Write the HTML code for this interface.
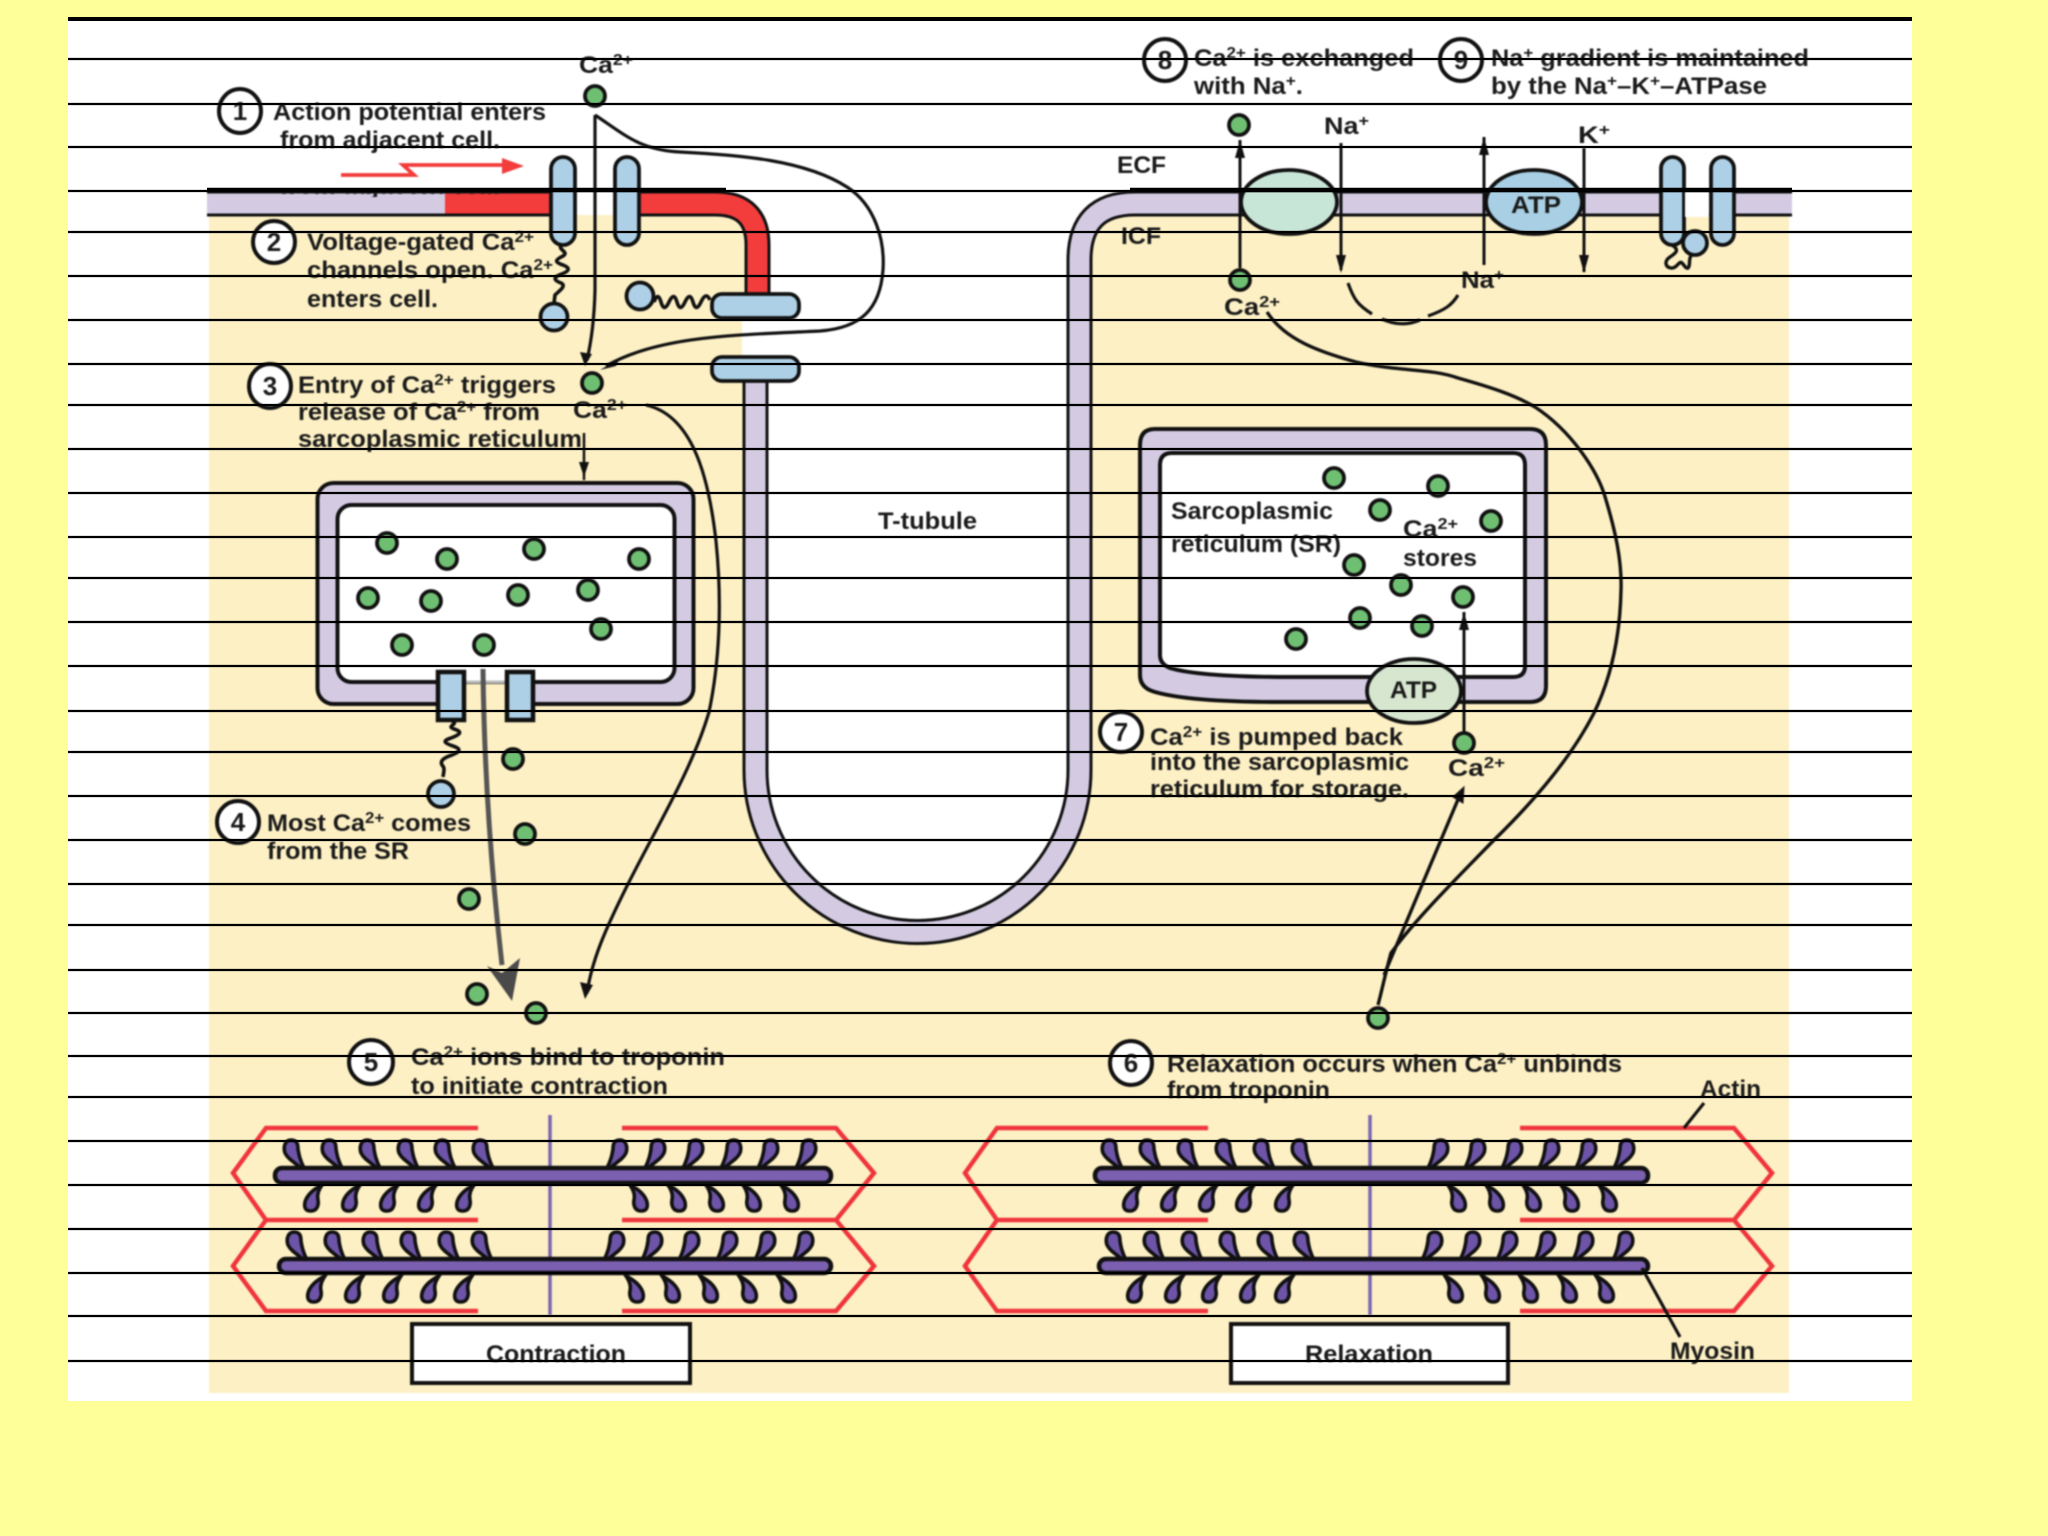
<!DOCTYPE html>
<html><head><meta charset="utf-8"><title>Excitation-contraction coupling</title>
<style>
html,body{margin:0;padding:0;background:#ffff99;width:2048px;height:1536px;overflow:hidden}
svg{display:block}
text{font-family:"Liberation Sans",sans-serif;font-weight:700;font-size:24px;fill:#1a1a1a}
.s{font-size:16px}
</style></head><body>
<svg xmlns="http://www.w3.org/2000/svg" width="2048" height="1536" viewBox="0 0 2048 1536">
<defs>
<circle id="g" r="10" fill="#6fbf73" stroke="#111" stroke-width="3.800"/>
<path id="h1" d="M0 0C-6 0-8 7-6 13C-3 19 3 22 10 28L13 28C9 20 8 15 7 9C7 4 6 0 0 0Z" fill="#6d54a8" stroke="#111" stroke-width="3.600"/>
<g id="h2" transform="scale(-1,1)"><use href="#h1"/></g>
<path id="h3" d="M0 0C6 0 8-6 7-11C6-16 7-20 11-26C3-22-4-16-6-9C-7-4-6 0 0 0Z" fill="#6d54a8" stroke="#111" stroke-width="3.600"/>
<g id="h4" transform="scale(-1,1)"><use href="#h3"/></g>
<clipPath id="rem"><rect x="270" y="192" width="240" height="5"/></clipPath>
</defs>
<rect x="68" y="18" width="1844" height="1383" fill="#fff"/>
<g style="filter:blur(.8px)">
<rect x="209" y="216" width="1580" height="1177" fill="#fdf0c4"/>
<path d="M715 203Q755.500 203 755.500 245V770A162 162 0 0 0 1079.500 770V260Q1079.500 203 1135 203Z" fill="#fff"/>
<rect x="742" y="318" width="60" height="40" fill="#fff"/>
<rect x="580" y="191" width="40" height="25" fill="#fff"/>

<!-- T tubule and membranes -->
<path d="M755.500 382V770A162 162 0 0 0 1079.500 770V260Q1079.500 203.500 1135 203.500H1792" fill="none" stroke="#111" stroke-width="26"/>
<path d="M755.500 382V770A162 162 0 0 0 1079.500 770V260Q1079.500 203.500 1135 203.500H1792" fill="none" stroke="#d4cbe3" stroke-width="20"/>
<path d="M207 203.500H445" stroke="#111" stroke-width="26" fill="none"/>
<path d="M207 203.500H445" stroke="#d4cbe3" stroke-width="20" fill="none"/>
<path d="M445 203.500H555M630 203.500H715Q757.500 203.500 757.500 245V295" stroke="#111" stroke-width="26" fill="none"/>
<path d="M445 203.500H555M630 203.500H715Q757.500 203.500 757.500 245V295" stroke="#f33c3c" stroke-width="20" fill="none"/>
<rect x="577" y="189" width="36" height="28" fill="#fff"/>
<path d="M577 216H613" stroke="#fdf0c4" stroke-width="2"/>
<text x="280" y="194" textLength="220" lengthAdjust="spacingAndGlyphs" clip-path="url(#rem)">from adjacent cell.</text>

<!-- channels -->
<rect x="551" y="157" width="24" height="88" rx="12" fill="#add0e6" stroke="#111" stroke-width="3.800"/>
<rect x="615" y="157" width="24" height="88" rx="12" fill="#add0e6" stroke="#111" stroke-width="3.800"/>
<rect x="712" y="294" width="87" height="24" rx="10" fill="#add0e6" stroke="#111" stroke-width="3.800"/>
<rect x="712" y="357" width="87" height="24" rx="10" fill="#add0e6" stroke="#111" stroke-width="3.800"/>
<path d="M562 245c-6 4 8 7 1 11c-8 4-9 6 0 9c8 3 6 6-1 9c-9 3-9 6-1 9c6 3-2 8-6 12l-1 8" fill="none" stroke="#111" stroke-width="3.600"/>
<circle cx="554" cy="317" r="13.500" fill="#add0e6" stroke="#111" stroke-width="3.800"/>
<circle cx="640" cy="296" r="13.500" fill="#add0e6" stroke="#111" stroke-width="3.800"/>
<path d="M654 302q4-11 7 0t8 0t8 0t8 0t8 0t8 0t9-2" fill="none" stroke="#111" stroke-width="3.600"/>

<!-- red action potential arrow -->
<path d="M341 175H414L403 165H506" fill="none" stroke="#f33c3c" stroke-width="3.800"/>
<path d="M502 158L524 166L502 174Z" fill="#f33c3c"/>

<!-- curves upper-left -->
<path d="M595 115V290Q594 330 587 360" fill="none" stroke="#111" stroke-width="3.200"/>
<path d="M580 352L592 354L585 366Z" fill="#111"/>
<path d="M595 115C625 135 640 150 680 152C740 155 805 160 847 187C875 205 885 240 883 270C880 310 860 328 820 331C740 335 660 335 606 366" fill="none" stroke="#111" stroke-width="3.200"/>
<path d="M600 370L620 358L616 366Z" fill="#111"/>
<path d="M646 405C690 415 708 470 716 541C722 600 720 660 709 712C692 770 655 830 627 886C605 930 592 960 587 993" fill="none" stroke="#111" stroke-width="3.200"/>
<path d="M580 982L593 985L585 999Z" fill="#111"/>
<path d="M584 433V480" stroke="#111" stroke-width="2.500"/>
<path d="M579 462H589L584 477Z" fill="#111"/>

<!-- left SR -->
<rect x="317.500" y="483" width="376" height="221" rx="16" fill="#d4cbe3" stroke="#111" stroke-width="4"/>
<rect x="337.500" y="505" width="337" height="177" rx="14" fill="#fff" stroke="#111" stroke-width="4"/>
<rect x="462" y="684" width="46" height="40" fill="#fdf0c4"/>
<rect x="462" y="668" width="46" height="14" fill="#fff"/>
<path d="M462 682H508" stroke="#bbb" stroke-width="3"/>
<rect x="438" y="672" width="26" height="48" fill="#add0e6" stroke="#111" stroke-width="4.500"/>
<rect x="507" y="672" width="26" height="48" fill="#add0e6" stroke="#111" stroke-width="4.500"/>
<path d="M452 721c8 3-7 5 2 8c10 3 5 6-3 9c-9 3-7 5 2 8c9 3 7 6-1 9c-9 3-12 6-10 10c3 3 2 5 1 12" fill="none" stroke="#111" stroke-width="3.600"/>
<circle cx="441" cy="794" r="13" fill="#add0e6" stroke="#111" stroke-width="3.800"/>

<!-- grey arrow -->
<path d="M483 669C484 760 490 860 502 965" stroke="#555" stroke-width="5" fill="none"/>
<path d="M512 1001L487 966L502 973L520 958Z" fill="#4a4a4a"/>

<!-- right SR -->
<path d="M1155 429H1530Q1546 429 1546 445V686Q1546 702 1530 702H1280Q1190 702 1155 692Q1140 688 1140 675V445Q1140 429 1155 429Z" fill="#d4cbe3" stroke="#111" stroke-width="4"/>
<path d="M1172 453H1513Q1525 453 1525 465V666Q1525 677 1513 677H1290Q1200 677 1170 668Q1160 664 1160 655V465Q1160 453 1172 453Z" fill="#fff" stroke="#111" stroke-width="4"/>
<ellipse cx="1414" cy="691" rx="47" ry="32" fill="#d6e6cf" stroke="#111" stroke-width="3.800"/>
<path d="M1464 612V735" stroke="#111" stroke-width="3"/>
<path d="M1459 630H1469L1464 612Z" fill="#111"/>

<!-- exchanger, pump, Na/K channel -->
<ellipse cx="1289" cy="202" rx="48" ry="32" fill="#c8e6d8" stroke="#111" stroke-width="3.800"/>
<ellipse cx="1534" cy="202" rx="48" ry="32" fill="#a8cfe3" stroke="#111" stroke-width="3.800"/>
<rect x="1661" y="157" width="23" height="88" rx="11.500" fill="#add0e6" stroke="#111" stroke-width="3.800"/>
<rect x="1685" y="189" width="24" height="28" fill="#fff"/>
<rect x="1711" y="157" width="23" height="88" rx="11.500" fill="#add0e6" stroke="#111" stroke-width="3.800"/>
<circle cx="1695" cy="243" r="12" fill="#add0e6" stroke="#111" stroke-width="3.800"/>
<path d="M1672 245c8 5 4 8-2 12c-6 4-5 10 1 11c6 1 8-8 11-5c3 3 4 6 6 5c3-3 0-8 3-12" fill="none" stroke="#111" stroke-width="3.400"/>

<path d="M1240 140V268M1341 143V270M1484 137V265M1584 148V272" stroke="#111" stroke-width="3" fill="none"/>
<path d="M1235 158H1245L1240 140ZM1336 255H1346L1341 273ZM1479 155H1489L1484 137ZM1579 255H1589L1584 273Z" fill="#111"/>
<path d="M1348 283C1354 300 1358 305 1372 314M1382 319Q1402 328 1420 320M1428 316C1445 310 1452 305 1458 295" fill="none" stroke="#111" stroke-width="3.200"/>

<!-- long relaxation curve -->
<path d="M1267 312C1285 340 1320 352 1356 362C1400 372 1430 368 1458 378C1490 387 1515 395 1535 407C1570 430 1598 470 1606 500C1615 530 1622 560 1621 590C1620 640 1610 680 1594 713C1570 760 1530 805 1494 840C1450 885 1415 920 1391 953C1385 975 1382 990 1378 1005" fill="none" stroke="#111" stroke-width="3.400"/>
<path d="M1384 975L1462 790" fill="none" stroke="#111" stroke-width="3.400"/>
<path d="M1453 797L1464 787L1463 803Z" fill="#111" stroke="#111" stroke-width="1"/>

<!-- calcium dots -->
<use href="#g" x="595" y="96"/><use href="#g" x="592" y="383"/><use href="#g" x="1239" y="125"/><use href="#g" x="1240" y="280"/>
<use href="#g" x="387" y="543"/><use href="#g" x="447" y="559"/><use href="#g" x="534" y="549"/><use href="#g" x="639" y="559"/><use href="#g" x="368" y="598"/><use href="#g" x="431" y="601"/><use href="#g" x="518" y="595"/><use href="#g" x="588" y="590"/><use href="#g" x="601" y="629"/><use href="#g" x="402" y="645"/><use href="#g" x="484" y="645"/>
<use href="#g" x="513" y="759"/><use href="#g" x="525" y="834"/><use href="#g" x="469" y="899"/><use href="#g" x="477" y="994"/><use href="#g" x="536" y="1013"/>
<use href="#g" x="1334" y="478"/><use href="#g" x="1438" y="486"/><use href="#g" x="1380" y="510"/><use href="#g" x="1491" y="521"/><use href="#g" x="1354" y="565"/><use href="#g" x="1401" y="585"/><use href="#g" x="1463" y="597"/><use href="#g" x="1360" y="618"/><use href="#g" x="1422" y="626"/><use href="#g" x="1296" y="639"/><use href="#g" x="1464" y="743"/><use href="#g" x="1378" y="1018"/>

<!-- number circles -->
<g fill="#fff" stroke="#111" stroke-width="4">
<ellipse cx="240" cy="111" rx="21" ry="22"/><ellipse cx="274" cy="242" rx="21" ry="21"/><ellipse cx="270" cy="386" rx="21" ry="22"/><ellipse cx="238" cy="822" rx="21" ry="21"/><ellipse cx="371" cy="1062" rx="22" ry="22"/><ellipse cx="1131" cy="1063" rx="21" ry="22"/><ellipse cx="1121" cy="732" rx="21" ry="20"/><ellipse cx="1165" cy="60" rx="21" ry="21"/><ellipse cx="1461" cy="60" rx="21" ry="21"/>
</g>
<g text-anchor="middle">
<text x="240" y="120" style="font-size:26px">1</text><text x="274" y="251" style="font-size:26px">2</text><text x="270" y="395" style="font-size:26px">3</text><text x="238" y="831" style="font-size:26px">4</text><text x="371" y="1071" style="font-size:26px">5</text><text x="1131" y="1072" style="font-size:26px">6</text><text x="1121" y="741" style="font-size:26px">7</text><text x="1165" y="69" style="font-size:26px">8</text><text x="1461" y="69" style="font-size:26px">9</text>
</g>

<!-- sarcomere: contraction -->
<g fill="none" stroke="#f0343c" stroke-width="4.500">
<path d="M478 1128H266L233 1173L266 1220H478M266 1220L233 1266L266 1311H478"/>
<path d="M622 1128H836L874 1173L836 1220H622M836 1220L874 1266L836 1311H622"/>
<path d="M1208 1128H997L965 1173L997 1220H1208M997 1220L965 1266L997 1311H1208"/>
<path d="M1520 1128H1734L1772 1173L1734 1220H1520M1734 1220L1772 1266L1734 1311H1520"/>
</g>
<path d="M550 1115V1315M1370 1115V1315" stroke="#7a66b0" stroke-width="3.500"/>
<g>
<use href="#h1" x="291" y="1140"/><use href="#h1" x="329" y="1140"/><use href="#h1" x="367" y="1140"/><use href="#h1" x="405" y="1140"/><use href="#h1" x="442" y="1140"/><use href="#h1" x="480" y="1140"/>
<use href="#h2" x="620" y="1140"/><use href="#h2" x="658" y="1140"/><use href="#h2" x="696" y="1140"/><use href="#h2" x="734" y="1140"/><use href="#h2" x="771" y="1140"/><use href="#h2" x="809" y="1140"/>
<use href="#h3" x="311" y="1211"/><use href="#h3" x="349" y="1211"/><use href="#h3" x="387" y="1211"/><use href="#h3" x="425" y="1211"/><use href="#h3" x="463" y="1211"/>
<use href="#h4" x="641" y="1211"/><use href="#h4" x="679" y="1211"/><use href="#h4" x="717" y="1211"/><use href="#h4" x="754" y="1211"/><use href="#h4" x="792" y="1211"/>
<use href="#h1" x="294" y="1232"/><use href="#h1" x="332" y="1232"/><use href="#h1" x="370" y="1232"/><use href="#h1" x="408" y="1232"/><use href="#h1" x="446" y="1232"/><use href="#h1" x="479" y="1232"/>
<use href="#h2" x="617" y="1232"/><use href="#h2" x="655" y="1232"/><use href="#h2" x="692" y="1232"/><use href="#h2" x="730" y="1232"/><use href="#h2" x="768" y="1232"/><use href="#h2" x="806" y="1232"/>
<use href="#h3" x="314" y="1302"/><use href="#h3" x="352" y="1302"/><use href="#h3" x="390" y="1302"/><use href="#h3" x="428" y="1302"/><use href="#h3" x="461" y="1302"/>
<use href="#h4" x="637" y="1302"/><use href="#h4" x="673" y="1302"/><use href="#h4" x="711" y="1302"/><use href="#h4" x="750" y="1302"/><use href="#h4" x="789" y="1302"/>
<!-- relaxation -->
<use href="#h1" x="1109" y="1140"/><use href="#h1" x="1147" y="1140"/><use href="#h1" x="1185" y="1140"/><use href="#h1" x="1223" y="1140"/><use href="#h1" x="1261" y="1140"/><use href="#h1" x="1299" y="1140"/>
<use href="#h2" x="1441" y="1140"/><use href="#h2" x="1478" y="1140"/><use href="#h2" x="1515" y="1140"/><use href="#h2" x="1552" y="1140"/><use href="#h2" x="1589" y="1140"/><use href="#h2" x="1627" y="1140"/>
<use href="#h3" x="1130" y="1211"/><use href="#h3" x="1168" y="1211"/><use href="#h3" x="1206" y="1211"/><use href="#h3" x="1243" y="1211"/><use href="#h3" x="1282" y="1211"/>
<use href="#h4" x="1459" y="1211"/><use href="#h4" x="1497" y="1211"/><use href="#h4" x="1534" y="1211"/><use href="#h4" x="1572" y="1211"/><use href="#h4" x="1610" y="1211"/>
<use href="#h1" x="1113" y="1232"/><use href="#h1" x="1151" y="1232"/><use href="#h1" x="1189" y="1232"/><use href="#h1" x="1227" y="1232"/><use href="#h1" x="1265" y="1232"/><use href="#h1" x="1301" y="1232"/>
<use href="#h2" x="1435" y="1232"/><use href="#h2" x="1473" y="1232"/><use href="#h2" x="1510" y="1232"/><use href="#h2" x="1548" y="1232"/><use href="#h2" x="1586" y="1232"/><use href="#h2" x="1626" y="1232"/>
<use href="#h3" x="1134" y="1302"/><use href="#h3" x="1172" y="1302"/><use href="#h3" x="1209" y="1302"/><use href="#h3" x="1247" y="1302"/><use href="#h3" x="1282" y="1302"/>
<use href="#h4" x="1456" y="1302"/><use href="#h4" x="1493" y="1302"/><use href="#h4" x="1531" y="1302"/><use href="#h4" x="1570" y="1302"/><use href="#h4" x="1607" y="1302"/>
</g>
<g fill="#7b5fb0" stroke="#111" stroke-width="4.500">
<rect x="275" y="1168" width="556" height="15" rx="7"/>
<rect x="279" y="1259" width="552" height="14" rx="7"/>
<rect x="1095" y="1168" width="553" height="15" rx="7"/>
<rect x="1099" y="1259" width="549" height="14" rx="7"/>
</g>

<!-- boxes -->
<rect x="412" y="1324" width="278" height="59" fill="#fff" stroke="#111" stroke-width="4"/>
<rect x="1231" y="1324" width="277" height="59" fill="#fff" stroke="#111" stroke-width="4"/>
<path d="M1704 1103L1684 1128M1642 1268L1680 1337" stroke="#111" stroke-width="3.200" fill="none"/>

<!-- text -->
<text x="273" y="120" textLength="273" lengthAdjust="spacingAndGlyphs">Action potential enters</text>
<text x="280" y="148" textLength="220" lengthAdjust="spacingAndGlyphs">from adjacent cell.</text>
<text x="307" y="250" textLength="227" lengthAdjust="spacingAndGlyphs">Voltage-gated Ca<tspan class="s" dy="-8">2+</tspan></text>
<text x="307" y="278" textLength="246" lengthAdjust="spacingAndGlyphs">channels open. Ca<tspan class="s" dy="-8">2+</tspan></text>
<text x="307" y="307" textLength="131" lengthAdjust="spacingAndGlyphs">enters cell.</text>
<text x="298" y="393" textLength="258" lengthAdjust="spacingAndGlyphs">Entry of Ca<tspan class="s" dy="-8">2+</tspan><tspan dy="8"> triggers</tspan></text>
<text x="298" y="420" textLength="242" lengthAdjust="spacingAndGlyphs">release of Ca<tspan class="s" dy="-8">2+</tspan><tspan dy="8"> from</tspan></text>
<text x="298" y="447" textLength="284" lengthAdjust="spacingAndGlyphs">sarcoplasmic reticulum</text>
<text x="579" y="73" textLength="54" lengthAdjust="spacingAndGlyphs">Ca<tspan class="s" dy="-8">2+</tspan></text>
<text x="573" y="418" textLength="54" lengthAdjust="spacingAndGlyphs">Ca<tspan class="s" dy="-8">2+</tspan></text>
<text x="1194" y="66" textLength="220" lengthAdjust="spacingAndGlyphs">Ca<tspan class="s" dy="-8">2+</tspan><tspan dy="8"> is exchanged</tspan></text>
<text x="1194" y="94" textLength="109" lengthAdjust="spacingAndGlyphs">with Na<tspan class="s" dy="-8">+</tspan><tspan dy="8">.</tspan></text>
<text x="1491" y="66" textLength="318" lengthAdjust="spacingAndGlyphs">Na<tspan class="s" dy="-8">+</tspan><tspan dy="8"> gradient is maintained</tspan></text>
<text x="1491" y="94" textLength="276" lengthAdjust="spacingAndGlyphs">by the Na<tspan class="s" dy="-8">+</tspan><tspan dy="8">–K</tspan><tspan class="s" dy="-8">+</tspan><tspan dy="8">–ATPase</tspan></text>
<text x="1324" y="134" textLength="45" lengthAdjust="spacingAndGlyphs">Na<tspan class="s" dy="-8">+</tspan></text>
<text x="1578" y="143" textLength="32" lengthAdjust="spacingAndGlyphs">K<tspan class="s" dy="-8">+</tspan></text>
<text x="1117" y="173" textLength="49" lengthAdjust="spacingAndGlyphs">ECF</text>
<text x="1121" y="244" textLength="40" lengthAdjust="spacingAndGlyphs">ICF</text>
<text x="1224" y="315" textLength="56" lengthAdjust="spacingAndGlyphs">Ca<tspan class="s" dy="-8">2+</tspan></text>
<text x="1461" y="288" textLength="43" lengthAdjust="spacingAndGlyphs">Na<tspan class="s" dy="-8">+</tspan></text>
<text x="1511" y="213" textLength="50" lengthAdjust="spacingAndGlyphs">ATP</text>
<text x="878" y="529" textLength="99" lengthAdjust="spacingAndGlyphs">T-tubule</text>
<text x="1171" y="519" textLength="162" lengthAdjust="spacingAndGlyphs">Sarcoplasmic</text>
<text x="1171" y="552" textLength="170" lengthAdjust="spacingAndGlyphs">reticulum (SR)</text>
<text x="1403" y="537" textLength="55" lengthAdjust="spacingAndGlyphs">Ca<tspan class="s" dy="-8">2+</tspan></text>
<text x="1403" y="566" textLength="74" lengthAdjust="spacingAndGlyphs">stores</text>
<text x="1390" y="698" textLength="47" lengthAdjust="spacingAndGlyphs">ATP</text>
<text x="1150" y="745" textLength="253" lengthAdjust="spacingAndGlyphs">Ca<tspan class="s" dy="-8">2+</tspan><tspan dy="8"> is pumped back</tspan></text>
<text x="1150" y="770" textLength="259" lengthAdjust="spacingAndGlyphs">into the sarcoplasmic</text>
<text x="1150" y="797" textLength="259" lengthAdjust="spacingAndGlyphs">reticulum for storage.</text>
<text x="1448" y="776" textLength="57" lengthAdjust="spacingAndGlyphs">Ca<tspan class="s" dy="-8">2+</tspan></text>
<text x="267" y="831" textLength="204" lengthAdjust="spacingAndGlyphs">Most Ca<tspan class="s" dy="-8">2+</tspan><tspan dy="8"> comes</tspan></text>
<text x="267" y="859" textLength="142" lengthAdjust="spacingAndGlyphs">from the SR</text>
<text x="411" y="1065" textLength="314" lengthAdjust="spacingAndGlyphs">Ca<tspan class="s" dy="-8">2+</tspan><tspan dy="8"> ions bind to troponin</tspan></text>
<text x="411" y="1094" textLength="257" lengthAdjust="spacingAndGlyphs">to initiate contraction</text>
<text x="1167" y="1072" textLength="455" lengthAdjust="spacingAndGlyphs">Relaxation occurs when Ca<tspan class="s" dy="-8">2+</tspan><tspan dy="8"> unbinds</tspan></text>
<text x="1167" y="1098" textLength="163" lengthAdjust="spacingAndGlyphs">from troponin</text>
<text x="1700" y="1097" textLength="61" lengthAdjust="spacingAndGlyphs">Actin</text>
<text x="1670" y="1359" textLength="85" lengthAdjust="spacingAndGlyphs">Myosin</text>
<text x="486" y="1362" textLength="140" lengthAdjust="spacingAndGlyphs">Contraction</text>
<text x="1305" y="1362" textLength="128" lengthAdjust="spacingAndGlyphs">Relaxation</text>
</g>

<!-- horizontal rules over everything -->
<rect x="68" y="17" width="1844" height="4" fill="#000"/>
<path d="M207 190H726M1130 190H1792" stroke="#000" stroke-width="4.500" fill="none"/>
<g stroke="#000" stroke-width="2.200">
<path d="M68 59H1912M68 104H1912M68 147H1912M68 191H1912M68 232H1912M68 276H1912M68 320H1912M68 364H1912M68 405H1912M68 449H1912M68 493H1912M68 537H1912M68 578H1912M68 622H1912M68 666H1912M68 711H1912M68 752H1912M68 796H1912M68 840H1912M68 884H1912M68 925H1912M68 970H1912M68 1013H1912M68 1056H1912M68 1097H1912M68 1141H1912M68 1185H1912M68 1229H1912M68 1273H1912M68 1316H1912M68 1361H1912"/>
</g>
</svg>
</body></html>
